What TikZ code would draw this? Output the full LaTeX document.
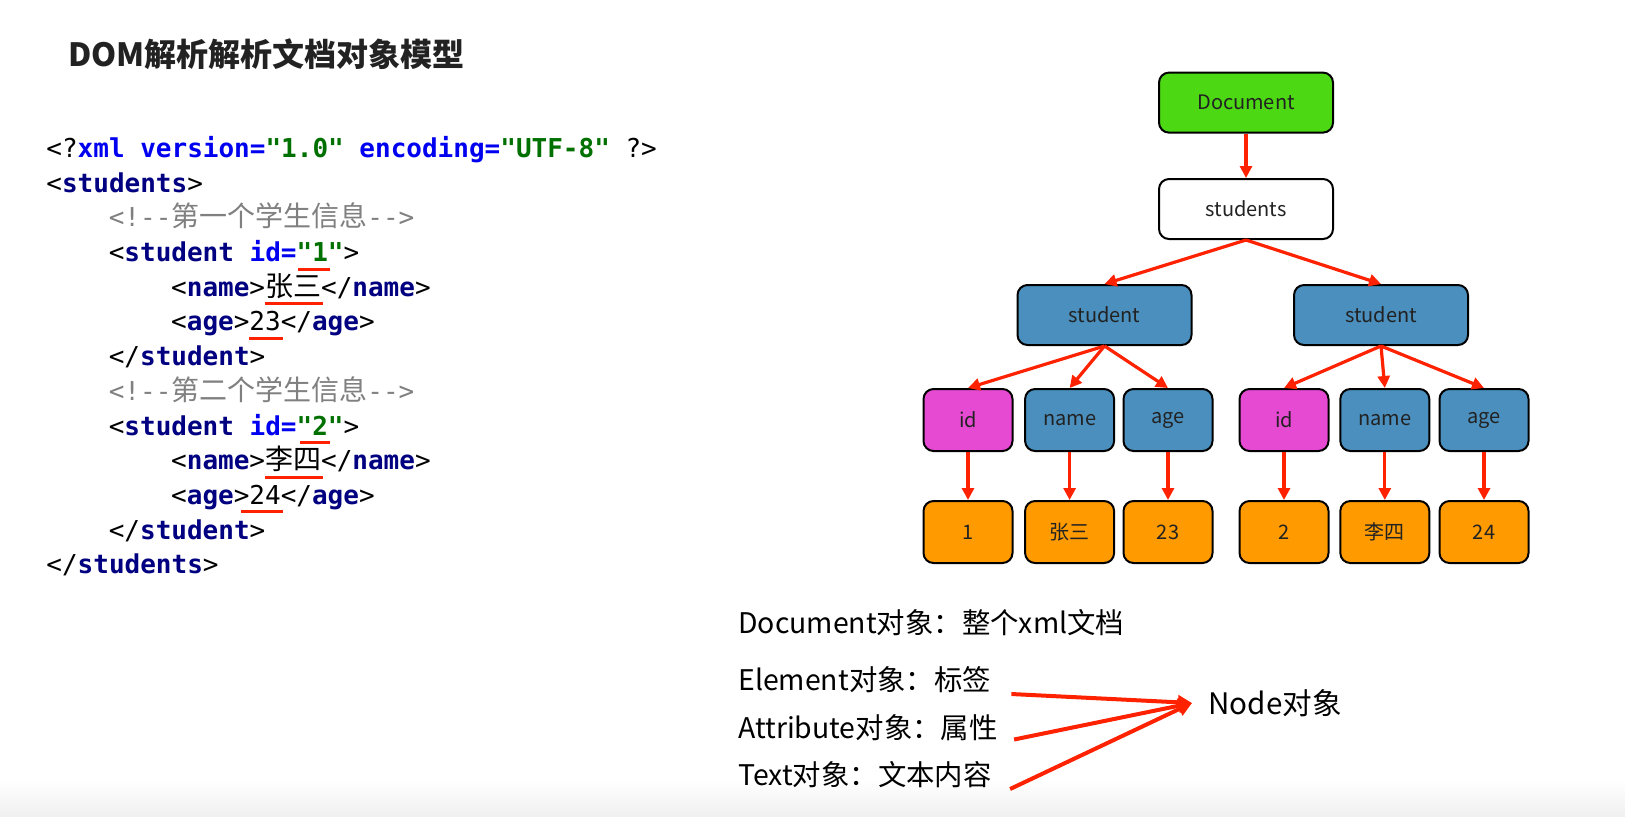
\documentclass[tikz,border=0pt]{standalone}
\usepackage{fontspec}
\setmainfont{Noto Sans CJK SC}
\setmonofont{DejaVu Sans Mono}
\newfontfamily\cjk{Noto Sans CJK SC}
\usepackage{tikz}
\usetikzlibrary{arrows.meta}
\usetikzlibrary{positioning}

\definecolor{docgreen}{HTML}{4CD914}
\definecolor{elblue}{HTML}{4A8FBD}
\definecolor{idpink}{HTML}{E64AD2}
\definecolor{valorange}{HTML}{FF9A00}
\definecolor{arrowred}{HTML}{FF2200}
\definecolor{tagc}{HTML}{000080}
\definecolor{attc}{HTML}{0000F0}
\definecolor{valc}{HTML}{007000}
\definecolor{comc}{HTML}{808080}
\definecolor{textgray}{HTML}{222222}

% pieces of the xml listing
\newcommand\xtag[1]{\textcolor{tagc}{\bfseries #1}}
\newcommand\xattr[1]{\textcolor{attc}{\bfseries #1}}
\newcommand\xval[1]{\textcolor{valc}{\bfseries #1}}
\newcommand\xcom[1]{\textcolor{comc}{#1}}
\newcommand\xzh[1]{{\cjk\fontsize{14}{15}\selectfont #1}}
\newcommand\redul[2][0pt]{\setbox0\hbox{#2}\hbox to 0pt{\hskip-#1\textcolor{arrowred}{\rule[-4.5pt]{\dimexpr\wd0+#1+1pt\relax}{1.5pt}}\hss}\box0}

\tikzstyle{bigbox}=[draw=black,line width=1pt,rounded corners=5pt,minimum width=87pt,minimum height=30pt,text=textgray,font=\fontsize{10}{12}\selectfont]
\tikzstyle{smallbox}=[bigbox,minimum width=44.5pt,minimum height=31pt]
\tikzstyle{redarrow}=[draw=arrowred,line width=1.6pt,-{Triangle[length=6pt,width=6pt]}]
\tikzstyle{notearrow}=[draw=arrowred,line width=2pt,-{Triangle[length=7pt,width=7pt]}]
\tikzstyle{codeline}=[anchor=base west,inner sep=0pt,font=\ttfamily\fontsize{13}{15}\selectfont]
\tikzstyle{note}=[anchor=west,inner sep=0pt,text=black,font=\fontsize{14.2}{16}\selectfont]

\begin{document}
\begin{tikzpicture}[x=0.5pt,y=0.5pt]

    \useasboundingbox (0,0) rectangle (1625,-816);
    \fill[white] (0,0) rectangle (1625,-816);
    \shade[top color=white,bottom color=black!6] (0,-780) rectangle (1625,-816);

    % Title
    \node[anchor=west,inner sep=0pt,text=textgray,font=\bfseries\fontsize{16}{18}\selectfont] (title) at (68,-54) {DOM解析解析文档对象模型};

    % The xml listing, one node per line
    \node[codeline] (l0) at (46,-157.4) {<?\xattr{xml version=}\xval{"1.0"} \xattr{encoding=}\xval{"UTF-8"} ?>};
    \node[codeline] (l1) at (46,-192.1) {<\xtag{students}>};
    \node[codeline] (l2) at (108.4,-226.8) {\xcom{<!--\xzh{第一个学生信息}-->}};
    \node[codeline] (l3) at (108.4,-261.5) {<\xtag{student} \xattr{id=}\xval{"\redul[7pt]{1}"}>};
    \node[codeline] (l4) at (170.8,-296.2) {<\xtag{name}>\redul{\xzh{张三}}</\xtag{name}>};
    \node[codeline] (l5) at (170.8,-330.9) {<\xtag{age}>\redul{23}</\xtag{age}>};
    \node[codeline] (l6) at (108.4,-365.6) {</\xtag{student}>};
    \node[codeline] (l7) at (108.4,-400.3) {\xcom{<!--\xzh{第二个学生信息}-->}};
    \node[codeline] (l8) at (108.4,-435) {<\xtag{student} \xattr{id=}\xval{"\redul[6pt]{2}"}>};
    \node[codeline] (l9) at (170.8,-469.7) {<\xtag{name}>\redul{\xzh{李四}}</\xtag{name}>};
    \node[codeline] (l10) at (170.8,-504.4) {<\xtag{age}>\redul[4pt]{24}</\xtag{age}>};
    \node[codeline] (l11) at (108.4,-539.1) {</\xtag{student}>};
    \node[codeline] (l12) at (46,-573.8) {</\xtag{students}>};

    % The DOM tree
    \foreach \pos/\name/\label/\fillc in {{(1246,-102.6)/doc/Document/docgreen}, {(1246,-209)/stus/students/white}, {(1104.5,-315)/stuL/student/elblue}, {(1381,-315)/stuR/student/elblue}}
        \node[bigbox,fill=\fillc] (\name) at \pos {\label};
    \foreach \pos/\name/\label/\fillc in {{(968,-420)/idL/id/idpink}, {(1069.6,-420)/nameL/name/elblue}, {(1168,-420)/ageL/age/elblue}, {(1284,-420)/idR/id/idpink}, {(1384.8,-420)/nameR/name/elblue}, {(1484,-420)/ageR/age/elblue}, {(968,-532)/vidL/1/valorange}, {(1069.6,-532)/vnameL/张三/valorange}, {(1168,-532)/vageL/23/valorange}, {(1284,-532)/vidR/2/valorange}, {(1384.8,-532)/vnameR/李四/valorange}, {(1484,-532)/vageR/24/valorange}}
        \node[smallbox,fill=\fillc] (\name) at \pos {\label};

    % Parent to child
    \foreach \source/\dest in {doc/stus, stus/stuL, stus/stuR, stuL/idL, stuL/nameL, stuL/ageL, stuR/idR, stuR/nameR, stuR/ageR, idL/vidL, nameL/vnameL, ageL/vageL, idR/vidR, nameR/vnameR, ageR/vageR}
        \draw[redarrow] (\source.south) -- (\dest.north);

    % Object types
    \node[note] (docobj) at (738,-623) {Document对象：整个xml文档};
    \node[note] (elemobj) at (738,-680) {Element对象：标签};
    \node[note] (attrobj) at (738,-727.5) {Attribute对象：属性};
    \node[note] (textobj) at (738,-775) {Text对象：文本内容};
    \node[anchor=west,inner sep=0pt,inner xsep=8pt,text=black,font=\fontsize{14.8}{16}\selectfont] (nodeobj) at (1192,-703) {Node对象};

    \draw[notearrow] ([shift={(10pt,-7pt)}]elemobj.east) -- (nodeobj.west);
    \draw[notearrow] ([shift={(8pt,-6pt)}]attrobj.east) -- (nodeobj.west);
    \draw[notearrow] ([shift={(9pt,-7pt)}]textobj.east) -- (nodeobj.west);

\end{tikzpicture}
\end{document}
